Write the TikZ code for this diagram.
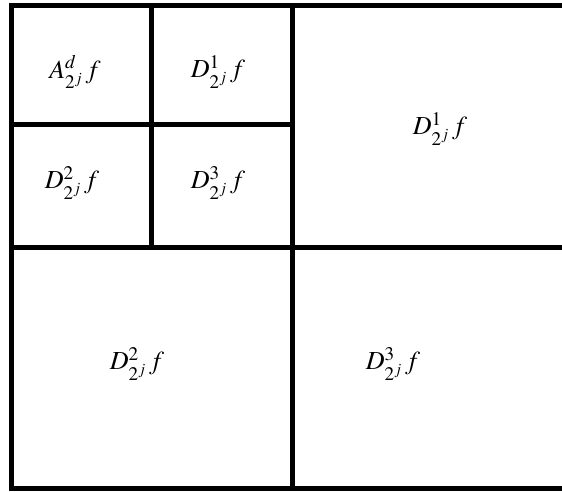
\documentclass[tikz,border=0pt]{standalone}
\usepackage{mathptmx}
\begin{document}
\begin{tikzpicture}[x=1pt,y=-1pt,
  grid/.style={line width=5pt, draw=black},
  lbl/.style={font=\fontsize{26}{31}\selectfont, inner sep=0pt}]
\useasboundingbox (0,0) rectangle (562,491);
\clip (0,0) rectangle (562,491);
% corner coordinates
\coordinate (tl) at (11.5,5.5);
\coordinate (tr) at (580,5.5);
\coordinate (bl) at (11.5,488.5);
\coordinate (br) at (580,488.5);
\coordinate (mt) at (292.5,5.5);
\coordinate (mb) at (292.5,488.5);
\coordinate (ml) at (11.5,247.5);
\coordinate (mr) at (580,247.5);
\coordinate (mc) at (292.5,247.5);
\coordinate (st) at (151.5,5.5);
\coordinate (sb) at (151.5,247.5);
\coordinate (sl) at (11.5,124.5);
\coordinate (sr) at (292.5,124.5);
% lines
\draw[grid] (tl) rectangle (br);
\draw[grid] (mt) -- (mb);
\draw[grid] (ml) -- (mr);
\draw[grid] (st) -- (sb);
\draw[grid] (sl) -- (sr);
% labels
\node[lbl] (a)   at (75,72)   {$A^{d}_{2^j}\,f$};
\node[lbl] (d1s) at (218,72)  {$D^{1}_{2^j}\,f$};
\node[lbl] (d2s) at (72,183)  {$D^{2}_{2^j}\,f$};
\node[lbl] (d3s) at (218,183) {$D^{3}_{2^j}\,f$};
\node[lbl] (d1b) at (440,129) {$D^{1}_{2^j}\,f$};
\node[lbl] (d2b) at (137,364) {$D^{2}_{2^j}\,f$};
\node[lbl] (d3b) at (393,364) {$D^{3}_{2^j}\,f$};
\end{tikzpicture}
\end{document}
